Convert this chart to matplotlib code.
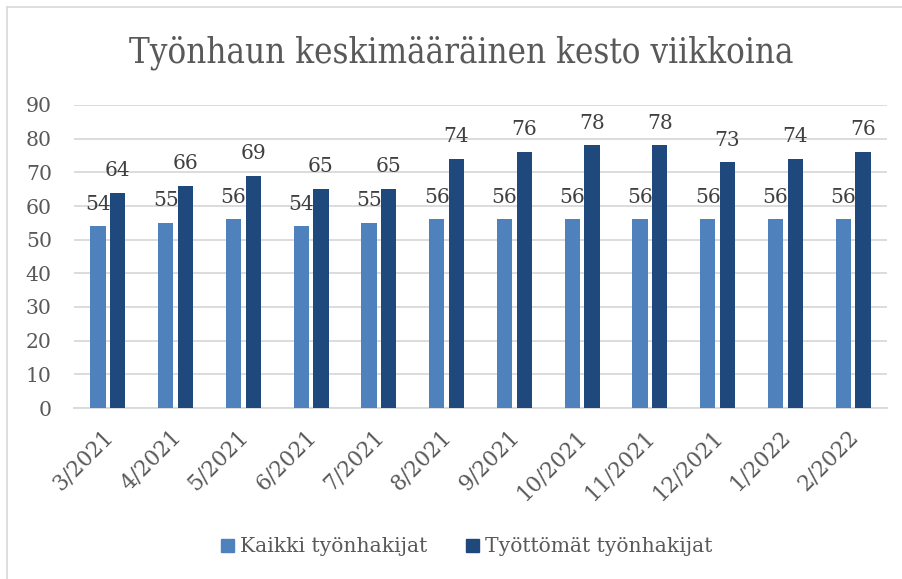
import matplotlib
matplotlib.use("Agg")
import matplotlib.pyplot as plt
from matplotlib.patches import Rectangle
from matplotlib.lines import Line2D
from matplotlib.transforms import ScaledTranslation
import numpy as np

categories = ["3/2021", "4/2021", "5/2021", "6/2021", "7/2021", "8/2021",
              "9/2021", "10/2021", "11/2021", "12/2021", "1/2022", "2/2022"]
kaikki = [54, 55, 56, 54, 55, 56, 56, 56, 56, 56, 56, 56]
tyottomat = [64, 66, 69, 65, 65, 74, 76, 78, 78, 73, 74, 76]
series_names = ["Kaikki työnhakijat", "Työttömät työnhakijat"]
title = "Työnhaun keskimääräinen kesto viikkoina"
yticks = [0, 10, 20, 30, 40, 50, 60, 70, 80, 90]

FONT = "DejaVu Serif"
TXT = "#595959"
C1 = "#4F81BD"
C2 = "#1F497D"
GRID = "#D9D9D9"

W, H = 903, 579
fig = plt.figure(figsize=(W / 100, H / 100), dpi=100)
fig.patch.set_facecolor("white")

# outer chart border
fig.add_artist(Line2D([7 / W, 7 / W], [0, 1 - 7 / H], color="#D9D9D9", lw=1.2))
fig.add_artist(Line2D([7 / W, 1], [1 - 7 / H, 1 - 7 / H], color="#D9D9D9", lw=1.2))

ax = fig.add_axes([74 / W, 1 - 408 / H, (887 - 74) / W, (408 - 105) / H])
x = np.arange(len(categories))
bw = 0.225
off = 0.145
b1 = ax.bar(x - off, kaikki, bw, color=C1, zorder=3)
b2 = ax.bar(x + off, tyottomat, bw, color=C2, zorder=3)

for bars, vals in ((b1, kaikki), (b2, tyottomat)):
    for r, v in zip(bars, vals):
        ax.annotate(str(v), (r.get_x() + r.get_width() / 2, v), xytext=(0, 12),
                    textcoords="offset points", ha="center", va="baseline",
                    fontsize=14.5, color="#404040", family=FONT, zorder=4)

ax.set_xlim(-0.5, len(categories) - 0.5)
ax.set_ylim(0, 90)
ax.set_yticks(yticks)
ax.set_yticklabels([str(t) for t in yticks], family=FONT, fontsize=14.7, color=TXT)
ax.yaxis.grid(True, color=GRID, lw=1.3, zorder=0)
ax.set_axisbelow(True)
for s in ["top", "right", "left"]:
    ax.spines[s].set_visible(False)
ax.spines["bottom"].set_color(GRID)
ax.spines["bottom"].set_linewidth(1.3)
ax.tick_params(axis="both", length=0)
ax.tick_params(axis="y", pad=16)
ax.set_xticks(x)
ax.set_xticklabels(categories, rotation=45, ha="right", va="top",
                   rotation_mode="anchor", family=FONT, fontsize=15.5, color=TXT)
ax.tick_params(axis="x", pad=13)
shift = ScaledTranslation(-6 / 100, 0, fig.dpi_scale_trans)
for lbl in ax.get_xticklabels():
    lbl.set_transform(lbl.get_transform() + shift)

fig.text(461.5 / W, 1 - 63 / H, title, ha="center", va="baseline",
         family=FONT, fontsize=25, color=TXT, fontstretch="condensed")

leg = fig.legend([Rectangle((0, 0), 1, 1, color=C1), Rectangle((0, 0), 1, 1, color=C2)],
                 series_names, loc="center", bbox_to_anchor=(466.5 / W, 1 - 547 / H),
                 ncol=2, frameon=False, handlelength=0.64, handleheight=0.64,
                 handletextpad=0.3, columnspacing=1.9,
                 prop={"family": FONT, "size": 14.6})
for t in leg.get_texts():
    t.set_color(TXT)

fig.savefig("out.png", dpi=100, facecolor="white")
